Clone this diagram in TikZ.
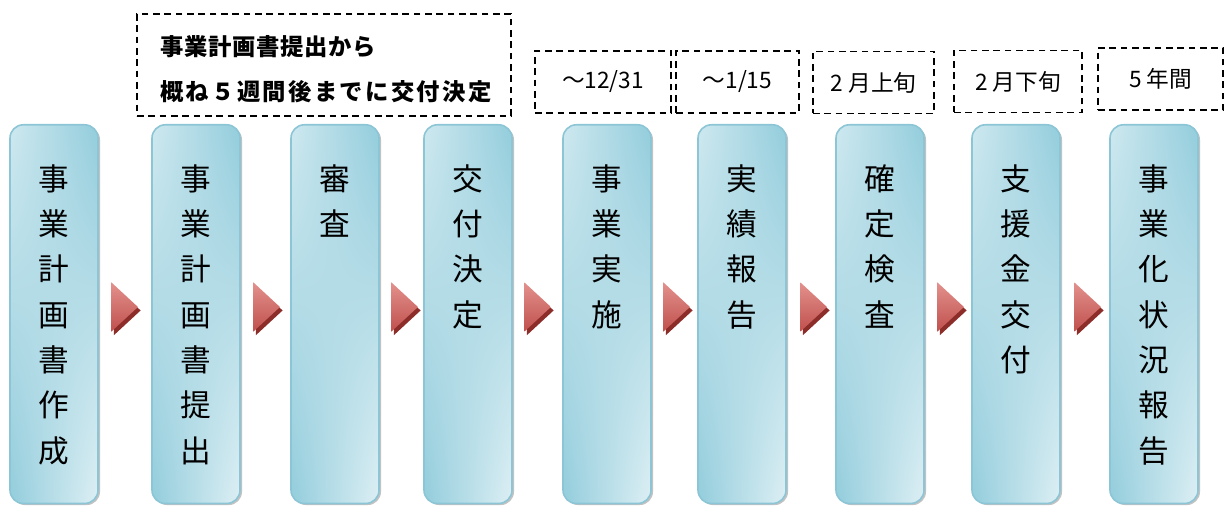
\documentclass[tikz,border=0pt]{standalone}
\usepackage{fontspec}
\setmainfont{Noto Sans CJK JP}
\usetikzlibrary{positioning,shapes.geometric,shadings,shadows}
\definecolor{boxlight}{HTML}{DDEFF4}
\definecolor{boxdark}{HTML}{93CDDC}
\definecolor{boxline}{HTML}{8CC6D6}
\definecolor{trired}{HTML}{C0504D}
\definecolor{trilight}{HTML}{E3918D}
\definecolor{tridark}{HTML}{8C2D2A}
\newcommand{\stepfont}{\fontsize{23pt}{34pt}\selectfont}
\newcommand{\datefont}{\fontsize{17pt}{20pt}\selectfont}
\newcommand{\notefont}{\fontsize{17.5pt}{20pt}\selectfont\bfseries}

\begin{document}
\begin{tikzpicture}[x=0.75pt,y=-0.75pt,
		stepbox/.style={draw=boxline, line width=1.2pt, rounded corners=10pt,
			minimum width=66pt, minimum height=284pt, anchor=north, inner sep=0pt,
			upper left=boxlight!80!boxdark, upper right=boxdark,
			lower left=boxdark, lower right=boxlight,
			drop shadow={shadow xshift=1.5pt, shadow yshift=-1.2pt, fill=black!40, opacity=0.6}},
		vtext/.style={font=\stepfont, align=center, inner sep=0pt},
		redtri/.style={isosceles triangle, isosceles triangle stretches, shape border rotate=0,
			minimum width=37pt, minimum height=20pt, inner sep=0pt, anchor=west,
			top color=trilight, bottom color=trired,
			drop shadow={shadow xshift=2pt, shadow yshift=-2.6pt, fill=tridark, opacity=1}},
		dashbox/.style={draw, dash pattern=on 5pt off 3.5pt, line width=1.3pt, inner sep=0pt},
		datebox/.style={dashbox, font=\datefont, minimum height=46.5pt}]
	\useasboundingbox (0,0) rectangle (1224,506);

	% steps
	\node[stepbox] (1) at (54,124) {};
	\node[stepbox] (2) at (196,124) {};
	\node[stepbox] (3) at (335,124) {};
	\node[stepbox] (4) at (468,124) {};
	\node[stepbox] (5) at (607,124) {};
	\node[stepbox] (6) at (742,124) {};
	\node[stepbox] (7) at (880,124) {};
	\node[stepbox] (8) at (1016,124) {};
	\node[stepbox] (9) at (1154,124) {};

	\node[vtext, below=30pt of 1.north] (t1) {事\\業\\計\\画\\書\\作\\成};
	\node[vtext, below=30pt of 2.north] (t2) {事\\業\\計\\画\\書\\提\\出};
	\node[vtext, below=30pt of 3.north] (t3) {審\\査};
	\node[vtext, below=30pt of 4.north] (t4) {交\\付\\決\\定};
	\node[vtext, below=30pt of 5.north] (t5) {事\\業\\実\\施};
	\node[vtext, below=30pt of 6.north] (t6) {実\\績\\報\\告};
	\node[vtext, below=30pt of 7.north] (t7) {確\\定\\検\\査};
	\node[vtext, below=30pt of 8.north] (t8) {支\\援\\金\\交\\付};
	\node[vtext, below=30pt of 9.north] (t9) {事\\業\\化\\状\\況\\報\\告};

	% arrows between steps
	\node[redtri] (a1) at (111,307) {};
	\node[redtri] (a2) at (253,307) {};
	\node[redtri] (a3) at (391,307) {};
	\node[redtri] (a4) at (524,307) {};
	\node[redtri] (a5) at (663,307) {};
	\node[redtri] (a6) at (800,307) {};
	\node[redtri] (a7) at (937,307) {};
	\node[redtri] (a8) at (1074,307) {};

	% notes
	\node[dashbox, minimum width=280.5pt, minimum height=76.5pt] (N) at (324,65) {};
	\node[font=\notefont, anchor=base west, inner sep=0pt] (N1) at (160,56)
		{\addfontfeature{LetterSpace=3}事業計画書提出から};
	\node[font=\notefont, anchor=base west, inner sep=0pt] (N2) at (160,101)
		{\addfontfeature{LetterSpace=10}概ね５週間後までに交付決定};

	\node[datebox, minimum width=102pt] (d5) at (603,82) {～12/31};
	\node[datebox, minimum width=92pt] (d6) at (737.5,82) {～1/15};
	\node[datebox, minimum width=91pt] (d7) at (873.5,82.5) {2 月上旬};
	\node[datebox, minimum width=96pt] (d8) at (1018,81.5) {2 月下旬};
	\node[datebox, minimum width=94pt] (d9) at (1160.5,79) {5 年間};
\end{tikzpicture}
\end{document}
